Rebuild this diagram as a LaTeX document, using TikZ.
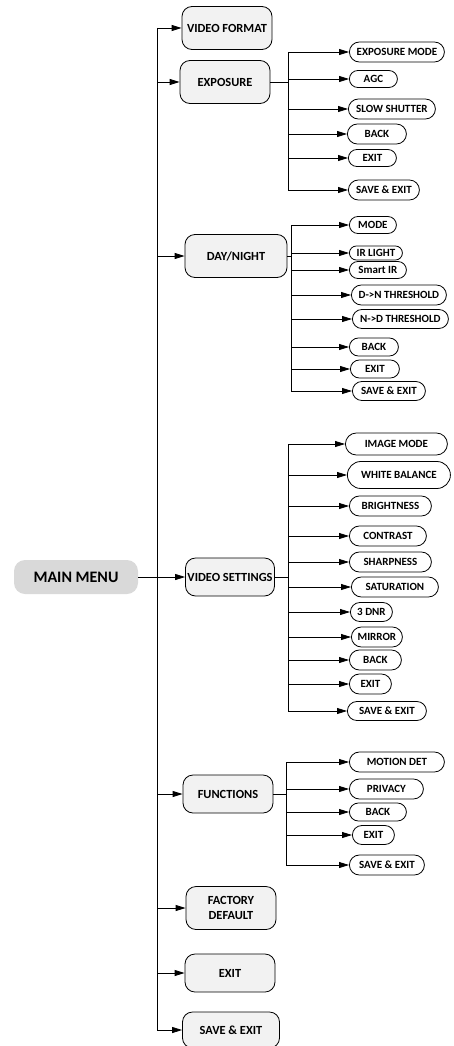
\documentclass[tikz,border=0pt]{standalone}
\usepackage{fontspec}
\setmainfont{Carlito}
\usepackage{xcolor}
\usepackage{tikz}
\usetikzlibrary{shapes.misc,arrows.meta,positioning,calc}
\definecolor{MenuGray}{RGB}{217,217,217}
\definecolor{BoxGray}{RGB}{242,242,242}
\tikzstyle{mainmenu} = [rectangle, rounded corners=11pt, minimum width=124pt, minimum height=34pt, text centered, fill=MenuGray, font=\fontsize{16}{18}\selectfont\bfseries]
\tikzstyle{topitem} = [rectangle, rounded corners=10pt, minimum width=90pt, minimum height=40pt, inner sep=1pt, text centered, align=center, draw=black, fill=BoxGray, line width=0.8pt, font=\fontsize{12.4}{14.5}\selectfont\bfseries]
\tikzstyle{subitem} = [rounded rectangle, minimum height=20pt, inner sep=1pt, text centered, draw=black, fill=white, line width=0.8pt, anchor=west, font=\fontsize{11}{12}\selectfont\bfseries]
\tikzstyle{arrow} = [line width=0.8pt, -{Triangle[length=10pt,width=6pt]}]
\tikzstyle{line} = [line width=0.8pt]

\begin{document}
\begin{tikzpicture}[x=1pt, y=-1pt]
\useasboundingbox (0,0) rectangle (453,1046);

% Main menu
\node (main) [mainmenu] at (76,577) {MAIN MENU};

% Level 1
\node (vf) [topitem, minimum height=43pt] at (227,28) {VIDEO FORMAT};
\node (exp) [topitem, minimum height=43pt] at (225,82) {EXPOSURE};
\node (dn) [topitem, minimum width=102pt, minimum height=43pt] at (236,256) {DAY/NIGHT};
\node (vset) [topitem, minimum width=89pt, minimum height=38pt] at (230,577) {VIDEO SETTINGS};
\node (func) [topitem, minimum height=38pt] at (228,794) {FUNCTIONS};
\node (fd) [topitem, minimum height=43pt] at (231,908) {FACTORY\\DEFAULT};
\node (mexit) [topitem, minimum height=38pt] at (230,973) {EXIT};
\node (msave) [topitem, minimum width=97pt, minimum height=36pt] at (231,1030) {SAVE \& EXIT};

% Exposure
\node (em) [subitem, minimum width=97pt] at (349,52) {EXPOSURE MODE};
\node (agc) [subitem, minimum width=50pt, minimum height=17pt] at (349,79) {AGC};
\node (ss) [subitem, minimum width=89pt] at (348,109) {SLOW SHUTTER};
\node (eback) [subitem, minimum width=61pt] at (347,134) {BACK};
\node (eexit) [subitem, minimum width=50pt, minimum height=17pt] at (348,158) {EXIT};
\node (esave) [subitem, minimum width=73pt] at (348,190) {SAVE \& EXIT};

% Day/Night
\node (mode) [subitem, minimum width=49pt, minimum height=17pt] at (349,225) {MODE};
\node (irl) [subitem, minimum width=55pt, minimum height=14pt] at (349,253) {IR LIGHT};
\node (sir) [subitem, minimum width=59pt, minimum height=17pt] at (349,270) {Smart IR};
\node (dnt) [subitem, minimum width=97pt] at (351,295) {D->N THRESHOLD};
\node (ndt) [subitem, minimum width=98pt, minimum height=19pt] at (352,319) {N->D THRESHOLD};
\node (dback) [subitem, minimum width=51pt, minimum height=18pt] at (349,347) {BACK};
\node (dexit) [subitem, minimum width=51pt, minimum height=18pt] at (350,369) {EXIT};
\node (dsave) [subitem, minimum width=75pt, minimum height=19pt] at (352,391) {SAVE \& EXIT};

% Video settings
\node (imode) [subitem, minimum width=104pt, minimum height=22pt] at (345,444) {IMAGE MODE};
\node (wb) [subitem, minimum width=105pt, minimum height=27pt] at (347,475) {WHITE BALANCE};
\node (bright) [subitem, minimum width=84pt] at (349,506) {BRIGHTNESS};
\node (contr) [subitem, minimum width=79pt] at (349,536) {CONTRAST};
\node (sharp) [subitem, minimum width=84pt] at (349,562) {SHARPNESS};
\node (sat) [subitem, minimum width=89pt] at (351,587) {SATURATION};
\node (dnr) [subitem, minimum width=44pt, minimum height=19pt] at (350,612) {3 DNR};
\node (mirror) [subitem, minimum width=53pt] at (351,637) {MIRROR};
\node (vback) [subitem, minimum width=54pt] at (349,660) {BACK};
\node (vexit) [subitem, minimum width=44pt] at (349,684) {EXIT};
\node (vsave) [subitem, minimum width=81pt, minimum height=19pt] at (347,711) {SAVE \& EXIT};

% Functions
\node (md) [subitem, minimum width=97pt] at (349,762) {MOTION DET};
\node (priv) [subitem, minimum width=76pt] at (349,789) {PRIVACY};
\node (fback) [subitem, minimum width=59pt, minimum height=18pt] at (349,812) {BACK};
\node (fexit) [subitem, minimum width=44pt, minimum height=19pt] at (352,835) {EXIT};
\node (fsave) [subitem, minimum width=77pt] at (349,865) {SAVE \& EXIT};

% Buses
\coordinate (mbus) at (157,0);
\coordinate (ebus) at (288,0);
\coordinate (dbus) at (291,0);
\coordinate (vbus) at (288,0);
\coordinate (fbus) at (286,0);

% Arrows
\draw [line] (mbus |- vf.west) -- (mbus |- msave.west);
\draw [arrow] (main) -- (vset);
\draw [arrow] (mbus |- vf.west) -- (vf);
\draw [arrow] (mbus |- exp.west) -- (exp);
\draw [arrow] (mbus |- dn.west) -- (dn);
\draw [arrow] (mbus |- func.west) -- (func);
\draw [arrow] (mbus |- fd.west) -- (fd);
\draw [arrow] (mbus |- mexit.west) -- (mexit);
\draw [arrow] (mbus |- msave.west) -- (msave);

\draw [line] (exp.east) -- (ebus |- exp.east);
\draw [line] (ebus |- em.west) -- (ebus |- esave.west);
\draw [arrow] (ebus |- em.west) -- (em);
\draw [arrow] (ebus |- agc.west) -- (agc);
\draw [arrow] (ebus |- ss.west) -- (ss);
\draw [arrow] (ebus |- eback.west) -- (eback);
\draw [arrow] (ebus |- eexit.west) -- (eexit);
\draw [arrow] (ebus |- esave.west) -- (esave);

\draw [line] (dn.east) -- (dbus |- dn.east);
\draw [line] (dbus |- mode.west) -- (dbus |- dsave.west);
\draw [arrow] (dbus |- mode.west) -- (mode);
\draw [arrow] (dbus |- irl.west) -- (irl);
\draw [arrow] (dbus |- sir.west) -- (sir);
\draw [arrow] (dbus |- dnt.west) -- (dnt);
\draw [arrow] (dbus |- ndt.west) -- (ndt);
\draw [arrow] (dbus |- dback.west) -- (dback);
\draw [arrow] (dbus |- dexit.west) -- (dexit);
\draw [arrow] (dbus |- dsave.west) -- (dsave);

\draw [line] (vset.east) -- (vbus |- vset.east);
\draw [line] (vbus |- imode.west) -- (vbus |- vsave.west);
\draw [arrow] (vbus |- imode.west) -- (imode);
\draw [arrow] (vbus |- wb.west) -- (wb);
\draw [arrow] (vbus |- bright.west) -- (bright);
\draw [arrow] (vbus |- contr.west) -- (contr);
\draw [arrow] (vbus |- sharp.west) -- (sharp);
\draw [arrow] (vbus |- sat.west) -- (sat);
\draw [arrow] (vbus |- dnr.west) -- (dnr);
\draw [arrow] (vbus |- mirror.west) -- (mirror);
\draw [arrow] (vbus |- vback.west) -- (vback);
\draw [arrow] (vbus |- vexit.west) -- (vexit);
\draw [arrow] (vbus |- vsave.west) -- (vsave);

\draw [line] (func.east) -- (fbus |- func.east);
\draw [line] (fbus |- md.west) -- (fbus |- fsave.west);
\draw [arrow] (fbus |- md.west) -- (md);
\draw [arrow] (fbus |- priv.west) -- (priv);
\draw [arrow] (fbus |- fback.west) -- (fback);
\draw [arrow] (fbus |- fexit.west) -- (fexit);
\draw [arrow] (fbus |- fsave.west) -- (fsave);

\end{tikzpicture}
\end{document}
